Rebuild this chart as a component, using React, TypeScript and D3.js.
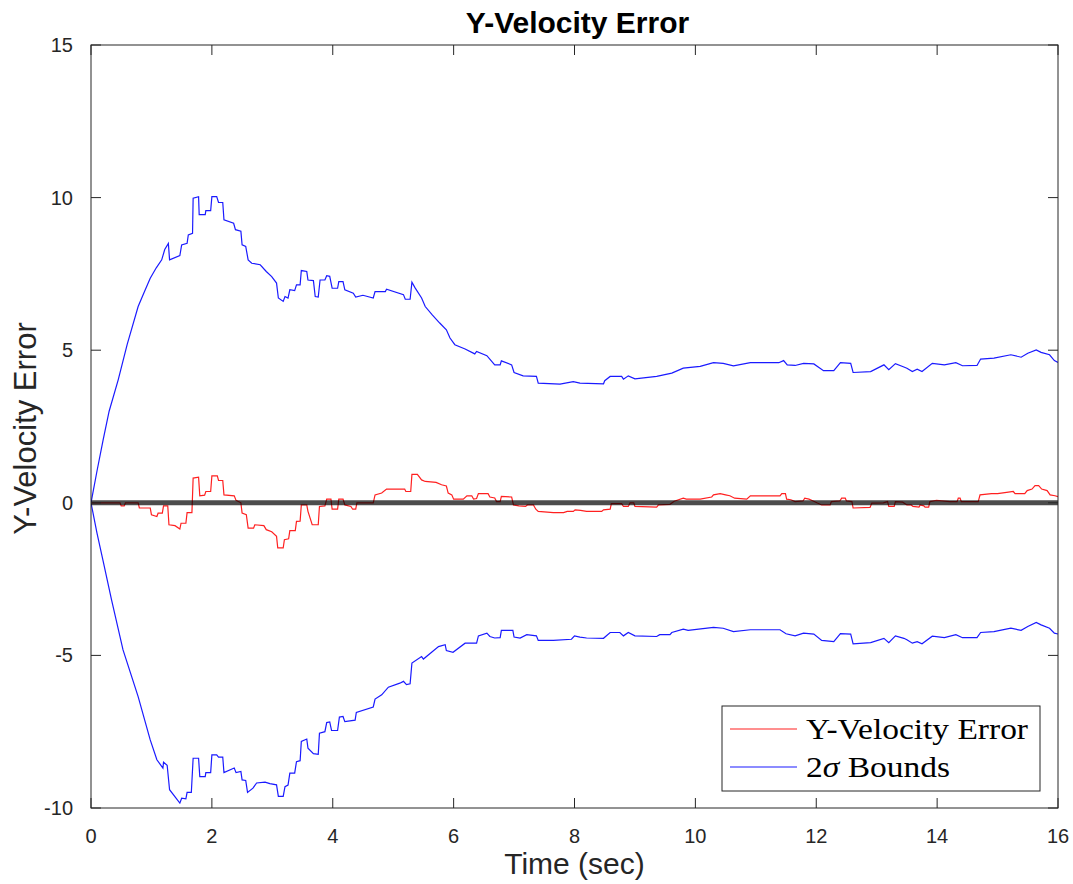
import React from "react";
import * as d3 from "d3";

const xTicks = [0, 2, 4, 6, 8, 10, 12, 14, 16];
const yTicks = [-10, -5, 0, 5, 10, 15];

const upperT = [0,0.1,0.2,0.3,0.45,0.6,0.78,0.88,0.98,1.08,1.17,1.22,1.28,1.3,1.47,1.5,1.59,1.61,1.68,1.69,1.78,1.79,1.89,1.9,1.98,2.0,2.08,2.11,2.18,2.2,2.36,2.39,2.48,2.5,2.56,2.6,2.66,2.8,2.9,2.99,3.07,3.1,3.18,3.21,3.26,3.29,3.37,3.4,3.46,3.48,3.57,3.59,3.68,3.71,3.76,3.79,3.87,3.9,3.95,3.99,4.08,4.1,4.17,4.2,4.34,4.38,4.5,4.67,4.7,4.87,4.89,5.17,5.2,5.28,5.31,5.36,5.47,5.53,5.65,5.77,5.88,5.94,6.02,6.19,6.35,6.38,6.55,6.68,6.77,6.79,6.96,7.0,7.15,7.37,7.4,7.76,7.98,8.09,8.48,8.5,8.59,8.78,8.81,8.89,9.0,9.36,9.61,9.8,10.08,10.3,10.46,10.63,10.91,11.38,11.46,11.52,11.65,11.79,11.96,12.12,12.29,12.4,12.57,12.61,12.9,13.12,13.2,13.31,13.45,13.5,13.59,13.67,13.75,13.92,14.12,14.31,14.42,14.66,14.72,14.94,15.22,15.39,15.5,15.64,15.72,15.86,15.94,16];
const upperV = [0,1.05,2.05,3.0,4.03,5.2,6.43,6.9,7.36,7.7,7.96,8.3,8.5,7.96,8.1,8.45,8.5,8.78,8.83,9.98,10.03,9.44,9.44,9.57,9.57,10.03,10.03,9.84,9.84,9.27,9.16,8.95,8.9,8.45,8.4,7.96,7.85,7.8,7.58,7.41,7.2,6.71,6.6,6.76,6.71,6.98,6.95,7.14,7.14,7.61,7.58,7.3,7.28,6.76,6.74,7.3,7.3,7.44,7.42,7.03,7.03,7.25,7.25,6.98,6.87,6.74,6.8,6.71,6.92,6.92,7.0,6.82,6.67,6.67,7.23,7.05,6.71,6.43,6.15,5.89,5.67,5.4,5.18,5.04,4.88,4.96,4.82,4.52,4.52,4.65,4.52,4.27,4.16,4.14,3.92,3.89,3.97,3.92,3.9,4.0,4.14,4.14,4.05,4.16,4.06,4.14,4.25,4.41,4.47,4.59,4.57,4.49,4.59,4.59,4.66,4.52,4.5,4.57,4.55,4.33,4.33,4.59,4.57,4.27,4.3,4.52,4.36,4.56,4.45,4.41,4.3,4.38,4.3,4.57,4.52,4.59,4.49,4.5,4.71,4.74,4.85,4.77,4.9,5.01,4.93,4.85,4.66,4.6];

const lowerT = [0,0.1,0.2,0.34,0.53,0.78,0.98,1.09,1.19,1.2,1.26,1.3,1.47,1.5,1.57,1.59,1.66,1.69,1.78,1.8,1.89,1.9,1.98,2.0,2.08,2.11,2.18,2.2,2.37,2.4,2.48,2.5,2.56,2.59,2.68,2.74,2.88,2.96,3.07,3.1,3.18,3.21,3.26,3.29,3.37,3.4,3.46,3.48,3.57,3.59,3.68,3.76,3.78,3.87,3.9,3.95,3.98,4.08,4.11,4.17,4.2,4.37,4.39,4.67,4.7,4.81,4.92,5.11,5.17,5.22,5.28,5.31,5.47,5.5,5.75,5.86,5.88,5.99,6.19,6.38,6.41,6.55,6.6,6.68,6.77,6.79,6.98,7.0,7.1,7.21,7.37,7.4,7.65,7.95,8.0,8.09,8.2,8.48,8.59,8.75,8.81,8.89,9.0,9.36,9.41,9.58,9.61,9.8,9.88,10.3,10.46,10.63,10.91,11.4,11.5,11.65,11.79,11.96,12.09,12.29,12.4,12.57,12.61,12.9,13.12,13.2,13.31,13.45,13.5,13.59,13.67,13.75,13.92,14.12,14.31,14.42,14.66,14.72,14.94,15.22,15.39,15.5,15.64,15.72,15.86,15.94,16];
const lowerV = [0,-1.0,-1.9,-3.18,-4.82,-6.35,-7.77,-8.42,-8.69,-8.5,-8.6,-9.4,-9.84,-9.68,-9.7,-9.49,-9.49,-8.37,-8.37,-8.97,-8.97,-8.84,-8.84,-8.26,-8.26,-8.33,-8.33,-8.84,-8.69,-8.84,-8.8,-9.08,-9.1,-9.49,-9.35,-9.18,-9.15,-9.2,-9.24,-9.62,-9.62,-9.3,-9.25,-8.86,-8.86,-8.48,-8.45,-7.82,-7.74,-8.04,-8.22,-8.24,-7.55,-7.5,-7.2,-7.18,-7.46,-7.46,-7.02,-7.0,-7.17,-7.12,-6.87,-6.69,-6.43,-6.29,-6.04,-5.91,-5.85,-5.96,-5.93,-5.25,-5.04,-5.12,-4.71,-4.65,-4.84,-4.9,-4.6,-4.6,-4.36,-4.27,-4.38,-4.43,-4.42,-4.18,-4.18,-4.4,-4.43,-4.32,-4.36,-4.51,-4.51,-4.47,-4.36,-4.4,-4.43,-4.44,-4.25,-4.25,-4.36,-4.25,-4.36,-4.38,-4.32,-4.32,-4.25,-4.14,-4.18,-4.08,-4.11,-4.22,-4.16,-4.16,-4.29,-4.36,-4.27,-4.3,-4.51,-4.55,-4.29,-4.3,-4.62,-4.58,-4.44,-4.58,-4.36,-4.44,-4.49,-4.6,-4.55,-4.62,-4.37,-4.42,-4.32,-4.42,-4.42,-4.25,-4.22,-4.11,-4.18,-4.05,-3.92,-4.0,-4.11,-4.27,-4.3];

const errT = [0,0.48,0.5,0.55,0.57,0.78,0.8,0.98,1.0,1.09,1.11,1.18,1.2,1.27,1.29,1.39,1.47,1.49,1.57,1.59,1.67,1.69,1.78,1.8,1.88,1.9,1.98,2.0,2.09,2.11,2.18,2.2,2.37,2.4,2.48,2.5,2.57,2.6,2.69,2.71,2.86,2.9,2.99,3.07,3.09,3.18,3.2,3.27,3.29,3.38,3.4,3.46,3.48,3.57,3.59,3.66,3.76,3.78,3.87,3.9,3.97,3.99,4.08,4.1,4.17,4.2,4.3,4.33,4.38,4.4,4.67,4.7,4.81,4.89,5.19,5.21,5.29,5.31,5.4,5.47,5.53,5.71,5.8,5.88,5.91,5.97,6.0,6.16,6.22,6.3,6.33,6.38,6.41,6.57,6.6,6.68,6.71,6.77,6.79,6.96,6.99,7.08,7.19,7.22,7.32,7.36,7.4,7.65,7.82,7.88,7.98,8.01,8.1,8.2,8.45,8.48,8.59,8.61,8.78,8.81,8.89,8.92,8.98,9.0,9.36,9.39,9.58,9.65,9.8,9.85,10.08,10.27,10.3,10.41,10.5,10.57,10.65,10.85,10.91,11.4,11.43,11.49,11.51,11.58,11.65,11.78,11.81,11.88,11.95,12.01,12.09,12.23,12.25,12.39,12.42,12.48,12.5,12.59,12.61,12.89,12.92,13.11,13.18,13.2,13.29,13.31,13.43,13.5,13.57,13.6,13.7,13.72,13.78,13.8,13.86,13.88,13.99,14.21,14.33,14.35,14.38,14.4,14.68,14.71,14.9,15.0,15.15,15.26,15.29,15.45,15.49,15.57,15.62,15.68,15.73,15.82,15.87,15.95,16];
const errV = [0,0,-0.1,-0.1,0,0,-0.17,-0.17,-0.39,-0.45,-0.34,-0.34,-0.1,-0.1,-0.72,-0.75,-0.86,-0.67,-0.67,-0.32,-0.32,0.81,0.84,0.23,0.25,0.37,0.37,0.88,0.88,0.73,0.73,0.26,0.23,0.08,0,-0.34,-0.39,-0.83,-0.83,-0.72,-0.75,-0.88,-0.95,-1.1,-1.48,-1.48,-1.21,-1.18,-0.91,-0.91,-0.61,-0.6,-0.07,-0.07,-0.28,-0.72,-0.72,-0.12,-0.1,0.12,0.12,-0.21,-0.21,0.12,0.12,-0.07,-0.12,-0.21,-0.21,0,0,0.26,0.32,0.45,0.45,0.37,0.37,0.93,0.93,0.75,0.7,0.67,0.59,0.55,0.32,0.26,0.12,0.12,0.23,0.23,0.12,0.14,0.3,0.3,0.19,0.16,0.04,0.04,0.21,0.19,-0.07,-0.1,-0.12,-0.07,-0.07,-0.21,-0.28,-0.32,-0.32,-0.28,-0.28,-0.23,-0.25,-0.28,-0.28,-0.23,-0.21,-0.03,-0.03,-0.12,-0.12,0,0,-0.12,-0.14,-0.07,-0.05,0.05,0.15,0.12,0.12,0.19,0.26,0.3,0.26,0.23,0.15,0.12,0.23,0.23,0.3,0.3,0.12,0.1,0.04,0.06,0.15,0.12,0.06,0,-0.07,-0.07,0.04,0.06,0.15,0.15,0.06,0.04,-0.17,-0.15,-0.01,0,0.04,-0.12,-0.12,0.04,0.02,-0.07,-0.07,-0.12,-0.14,-0.07,-0.1,-0.14,-0.14,0.04,0.08,0.04,0.04,0.15,0.15,0.04,0.04,0.26,0.3,0.3,0.34,0.37,0.3,0.3,0.4,0.45,0.56,0.56,0.45,0.4,0.26,0.23,0.2];

const W = 1073, H = 884;
const L = 91, R = 1058, T = 45, B = 808;

export default function App() {
  const x = d3.scaleLinear().domain([0, 16]).range([L, R]);
  const y = d3.scaleLinear().domain([-10, 15]).range([B, T]);
  const line = d3.line<[number, number]>().x(d => x(d[0])).y(d => y(d[1]));
  const up = upperT.map((t, i) => [t, upperV[i]] as [number, number]);
  const lo = lowerT.map((t, i) => [t, lowerV[i]] as [number, number]);
  const er = errT.map((t, i) => [t, errV[i]] as [number, number]);
  const tickLen = 10;
  const sans = "'Liberation Sans', Arial, Helvetica, sans-serif";
  const serif = "'Liberation Serif', 'DejaVu Serif', serif";
  return (
    <svg width={W} height={H} style={{ position: "absolute", left: 0, top: 0, background: "#fff" }}>
      <rect x={0} y={0} width={W} height={H} fill="#fff" />
      <defs>
        <clipPath id="plot"><rect x={L} y={T} width={R - L} height={B - T} /></clipPath>
      </defs>
      <g clipPath="url(#plot)">
        <path d={line(up) || ""} fill="none" stroke="#1a1aff" strokeWidth={1.2} />
        <path d={line(lo) || ""} fill="none" stroke="#1a1aff" strokeWidth={1.2} />
        <path d={line(er) || ""} fill="none" stroke="#ff2020" strokeWidth={1.2} />
        <line x1={x(0)} x2={x(16)} y1={y(0)} y2={y(0)} stroke="#000" strokeOpacity={0.7} strokeWidth={5} />
      </g>
      <rect x={L} y={T} width={R - L} height={B - T} fill="none" stroke="#262626" strokeWidth={1} />
      {xTicks.map(t => (
        <g key={"x" + t}>
          <line x1={x(t)} x2={x(t)} y1={B} y2={B - tickLen} stroke="#262626" />
          <line x1={x(t)} x2={x(t)} y1={T} y2={T + tickLen} stroke="#262626" />
          <text x={x(t)} y={843} textAnchor="middle" fontFamily={sans} fontSize={20} fill="#262626">{t}</text>
        </g>
      ))}
      {yTicks.map(v => (
        <g key={"y" + v}>
          <line x1={L} x2={L + tickLen} y1={y(v)} y2={y(v)} stroke="#262626" />
          <line x1={R} x2={R - tickLen} y1={y(v)} y2={y(v)} stroke="#262626" />
          <text x={73} y={y(v) + 7} textAnchor="end" fontFamily={sans} fontSize={20} fill="#262626">{v}</text>
        </g>
      ))}
      <text x={(L + R) / 2 + 3} y={33} textAnchor="middle" fontFamily={sans} fontWeight="bold" fontSize={30} fill="#000">Y-Velocity Error</text>
      <text x={(L + R) / 2} y={874} textAnchor="middle" fontFamily={sans} fontSize={30} fill="#262626">Time (sec)</text>
      <text transform={`translate(36, ${(T + B) / 2 + 2}) rotate(-90)`} textAnchor="middle" fontFamily={sans} fontSize={31} fill="#262626">Y-Velocity Error</text>
      <g>
        <rect x={722} y={706} width={318} height={85} fill="#fff" stroke="#262626" strokeWidth={1} />
        <line x1={730} x2={797} y1={729} y2={729} stroke="#ff2020" strokeWidth={1.2} />
        <line x1={730} x2={797} y1={767} y2={767} stroke="#1a1aff" strokeWidth={1.2} />
        <text x={806} y={739} fontFamily={serif} fontSize={30} textLength={222} lengthAdjust="spacingAndGlyphs" fill="#000">Y-Velocity Error</text>
        <text x={806} y={777} fontFamily={serif} fontSize={30} textLength={144} lengthAdjust="spacingAndGlyphs" fill="#000">2<tspan fontStyle="italic">σ</tspan> Bounds</text>
      </g>
    </svg>
  );
}
